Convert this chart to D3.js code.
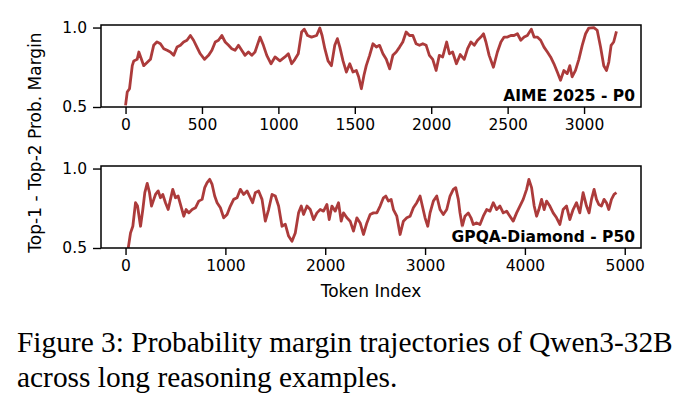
<!DOCTYPE html>
<html>
<head>
<meta charset="utf-8">
<script src="https://cdn.jsdelivr.net/npm/d3@7"></script>
<style>
  body { margin: 0; background: #fff; }
  svg { display: block; }
  .tick text { font-family: "DejaVu Sans", sans-serif; font-size: 15.5px; fill: #000; }
  .caption { font-family: "Liberation Serif", "Times New Roman", serif; font-size: 29.4px; fill: #000; }
</style>
</head>
<body>
<svg width="686" height="408"></svg>
<script>
// AIME 2025 - P0 trajectory
const aimeTokens = [0, 11, 26, 44, 54, 76, 87, 104, 119, 141, 163, 184, 206, 228, 250, 272, 293, 315, 337, 359,
  380, 402, 424, 445, 467, 489, 517, 543, 565, 587, 608, 630, 652, 674, 695, 717, 739, 760, 782, 804,
  826, 847, 880, 902, 924, 952, 978, 1010, 1043, 1065, 1087, 1108, 1130, 1152, 1169, 1191, 1217, 1250, 1271, 1286,
  1304, 1325, 1347, 1369, 1386, 1402, 1423, 1445, 1467, 1488, 1510, 1525, 1543, 1560, 1575, 1597, 1619, 1641, 1662, 1684,
  1706, 1728, 1749, 1771, 1793, 1814, 1836, 1858, 1880, 1901, 1923, 1945, 1967, 1988, 2010, 2032, 2053, 2075, 2101, 2119,
  2140, 2165, 2190, 2216, 2238, 2260, 2282, 2303, 2325, 2342, 2358, 2379, 2407, 2433, 2456, 2477, 2499, 2521, 2542, 2564,
  2586, 2608, 2629, 2655, 2673, 2694, 2716, 2738, 2760, 2781, 2803, 2825, 2846, 2868, 2890, 2907, 2922, 2944, 2966, 2988,
  3010, 3031, 3064, 3086, 3108, 3129, 3147, 3162, 3177, 3194, 3212];
const aimeMargin = [0.51, 0.594, 0.615, 0.76, 0.79, 0.80, 0.846, 0.80, 0.76, 0.78, 0.80, 0.888, 0.91, 0.898, 0.867, 0.857, 0.846, 0.825, 0.877, 0.888,
  0.909, 0.92, 0.95, 0.92, 0.877, 0.835, 0.80, 0.825, 0.857, 0.909, 0.92, 0.95, 0.909, 0.888, 0.867, 0.857, 0.888, 0.857, 0.825, 0.846,
  0.825, 0.846, 0.94, 0.888, 0.825, 0.772, 0.815, 0.79, 0.815, 0.835, 0.772, 0.80, 0.835, 0.972, 0.99, 0.95, 0.94, 0.95, 0.997, 0.95,
  0.867, 0.79, 0.76, 0.888, 0.93, 0.877, 0.79, 0.72, 0.772, 0.72, 0.73, 0.69, 0.615, 0.70, 0.76, 0.825, 0.898, 0.877, 0.888, 0.835,
  0.80, 0.74, 0.825, 0.846, 0.877, 0.909, 0.972, 0.95, 0.95, 0.898, 0.888, 0.898, 0.888, 0.825, 0.80, 0.73, 0.825, 0.815, 0.909, 0.835,
  0.846, 0.772, 0.83, 0.80, 0.867, 0.909, 0.888, 0.92, 0.94, 0.961, 0.909, 0.825, 0.75, 0.846, 0.909, 0.94, 0.94, 0.95, 0.95, 0.961,
  0.92, 0.94, 0.95, 0.99, 0.94, 0.94, 0.92, 0.877, 0.846, 0.815, 0.772, 0.72, 0.668, 0.73, 0.71, 0.76, 0.69, 0.73, 0.80, 0.888,
  0.961, 0.997, 1.0, 0.983, 0.877, 0.76, 0.73, 0.783, 0.888, 0.909, 0.976];

// GPQA-Diamond - P50 trajectory
const gpqaTokens = [27, 50, 73, 100, 120, 150, 173, 193, 217, 240, 260, 283, 300, 327, 350, 373, 400, 427, 450, 473,
  500, 527, 550, 583, 607, 633, 667, 700, 733, 767, 793, 817, 843, 867, 893, 917, 950, 983, 1017, 1050,
  1083, 1117, 1150, 1183, 1217, 1250, 1273, 1300, 1333, 1367, 1400, 1433, 1467, 1500, 1533, 1567, 1600, 1633, 1667, 1700,
  1733, 1760, 1783, 1817, 1850, 1883, 1917, 1950, 1983, 2017, 2040, 2067, 2100, 2133, 2160, 2183, 2217, 2250, 2283, 2317,
  2350, 2383, 2417, 2450, 2483, 2517, 2550, 2583, 2607, 2633, 2660, 2683, 2717, 2750, 2783, 2817, 2850, 2883, 2917, 2950,
  2973, 3000, 3027, 3050, 3083, 3117, 3150, 3183, 3217, 3250, 3283, 3307, 3333, 3350, 3373, 3400, 3433, 3460, 3483, 3517,
  3550, 3583, 3617, 3650, 3683, 3717, 3750, 3783, 3817, 3850, 3883, 3917, 3950, 3983, 4017, 4040, 4067, 4093, 4117, 4140,
  4167, 4193, 4217, 4250, 4283, 4317, 4350, 4383, 4417, 4450, 4483, 4517, 4550, 4583, 4617, 4643, 4667, 4693, 4717, 4740,
  4767, 4793, 4817, 4840, 4867, 4893, 4917];
const gpqaMargin = [0.50, 0.595, 0.637, 0.785, 0.764, 0.637, 0.742, 0.848, 0.907, 0.848, 0.764, 0.806, 0.837, 0.859, 0.816, 0.837, 0.785, 0.742, 0.806, 0.869,
  0.816, 0.827, 0.774, 0.70, 0.742, 0.721, 0.742, 0.753, 0.795, 0.806, 0.88, 0.911, 0.932, 0.90, 0.827, 0.785, 0.753, 0.69, 0.711, 0.764,
  0.806, 0.816, 0.869, 0.837, 0.859, 0.816, 0.785, 0.848, 0.859, 0.806, 0.669, 0.742, 0.837, 0.827, 0.764, 0.637, 0.65, 0.575, 0.542, 0.595,
  0.721, 0.764, 0.711, 0.764, 0.742, 0.679, 0.721, 0.742, 0.732, 0.774, 0.679, 0.764, 0.732, 0.785, 0.669, 0.721, 0.69, 0.669, 0.606, 0.69,
  0.658, 0.585, 0.658, 0.711, 0.721, 0.721, 0.764, 0.816, 0.827, 0.795, 0.806, 0.742, 0.70, 0.585, 0.669, 0.69, 0.70, 0.753, 0.785, 0.827,
  0.764, 0.69, 0.637, 0.721, 0.795, 0.827, 0.742, 0.711, 0.742, 0.827, 0.869, 0.88, 0.806, 0.721, 0.637, 0.70, 0.721, 0.69, 0.648, 0.658,
  0.648, 0.70, 0.742, 0.732, 0.785, 0.742, 0.764, 0.721, 0.732, 0.70, 0.669, 0.721, 0.764, 0.806, 0.869, 0.932, 0.88, 0.764, 0.70, 0.742,
  0.806, 0.742, 0.795, 0.764, 0.721, 0.69, 0.648, 0.742, 0.764, 0.679, 0.742, 0.785, 0.721, 0.848, 0.764, 0.721, 0.806, 0.869, 0.806, 0.774,
  0.764, 0.806, 0.785, 0.742, 0.806, 0.837, 0.848];

const yTicks = [0.5, 1.0];
const panels = [
  { label: "AIME 2025 - P0", tokens: aimeTokens, margin: aimeMargin, xTicks: [0, 500, 1000, 1500, 2000, 2500, 3000], top: 25 },
  { label: "GPQA-Diamond - P50", tokens: gpqaTokens, margin: gpqaMargin, xTicks: [0, 1000, 2000, 3000, 4000, 5000], top: 166 }
];
const captionLines = ["Figure 3: Probability margin trajectories of Qwen3-32B", "across long reasoning examples."];

const left = 101, right = 641, panelH = 82;
const svg = d3.select("svg");
svg.append("rect").attr("width", 686).attr("height", 408).attr("fill", "#fff");

panels.forEach((p, i) => {
  const n = p.tokens.length;
  const span = p.tokens[n - 1];
  const x = d3.scaleLinear()
    .domain([-0.05 * span, span * 1.05])
    .range([left, right]);
  const y = d3.scaleLinear()
    .domain([0.5, 1.016])
    .range([p.top + panelH, p.top]);

  const g = svg.append("g");

  g.append("clipPath").attr("id", "clip" + i)
    .append("rect").attr("x", left).attr("y", p.top).attr("width", right - left).attr("height", panelH);

  const pts = p.tokens.map((t, j) => [t, p.margin[j]]);
  g.append("path")
    .datum(pts)
    .attr("clip-path", "url(#clip" + i + ")")
    .attr("fill", "none")
    .attr("stroke", "#a52a2a")
    .attr("stroke-opacity", 0.92)
    .attr("stroke-width", 2.8)
    .attr("stroke-linejoin", "round")
    .attr("d", d3.line().x(d => x(d[0])).y(d => y(d[1])));

  // axes
  const xa = g.append("g")
    .attr("transform", "translate(0," + (p.top + panelH) + ")")
    .call(d3.axisBottom(x).tickValues(p.xTicks).tickSize(7).tickPadding(5).tickFormat(d3.format("d")));
  const ya = g.append("g")
    .attr("transform", "translate(" + left + ",0)")
    .call(d3.axisLeft(y).tickValues(yTicks).tickSize(8).tickPadding(6).tickFormat(d3.format(".1f")));
  [xa, ya].forEach(a => {
    a.select(".domain").remove();
    a.selectAll(".tick line").attr("stroke", "#000").attr("stroke-width", 1.4);
  });

  // panel label with a translucent box
  const box = g.append("rect").attr("fill", "#fff").attr("fill-opacity", 0.7);
  const lab = g.append("text")
    .attr("x", 635).attr("y", p.top + panelH - 6.5)
    .attr("text-anchor", "end")
    .style("font-family", "'DejaVu Sans', sans-serif")
    .style("font-weight", "bold")
    .style("font-size", "15.5px")
    .text(p.label);
  const bb = lab.node().getBBox();
  box.attr("x", bb.x - 3).attr("y", bb.y - 1)
    .attr("width", bb.width + 5).attr("height", bb.height + 1);

  // frame
  g.append("rect")
    .attr("x", left).attr("y", p.top)
    .attr("width", right - left).attr("height", panelH)
    .attr("fill", "none").attr("stroke", "#000").attr("stroke-width", 1.5);
});

// axis titles
svg.append("text")
  .attr("x", 371).attr("y", 297)
  .attr("text-anchor", "middle")
  .style("font-family", "'DejaVu Sans', sans-serif")
  .style("font-size", "17px")
  .text("Token Index");

svg.append("text")
  .attr("transform", "translate(41,142.5) rotate(-90)")
  .attr("text-anchor", "middle")
  .style("font-family", "'DejaVu Sans', sans-serif")
  .style("font-size", "17px")
  .text("Top-1 - Top-2 Prob. Margin");

// caption
svg.selectAll(".caption")
  .data(captionLines)
  .enter().append("text")
  .attr("class", "caption")
  .attr("x", 17)
  .attr("y", (d, i) => 352 + i * 35)
  .text(d => d);
</script>
</body>
</html>
